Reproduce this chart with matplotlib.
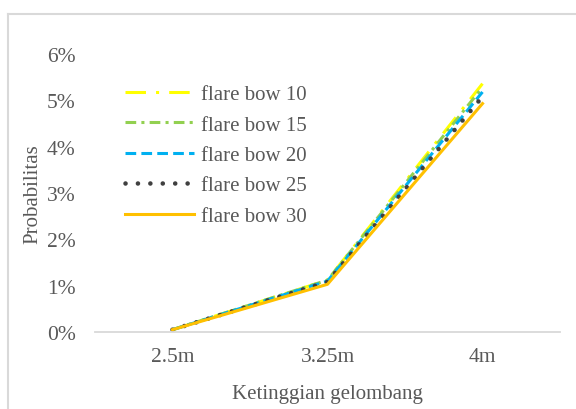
import matplotlib.pyplot as plt
from matplotlib.lines import Line2D

# data
categories = ['2.5m', '3.25m', '4m']
series_names = ['flare bow 10', 'flare bow 15', 'flare bow 20', 'flare bow 25', 'flare bow 30']
fb10 = [0.05, 1.12, 5.36]
fb15 = [0.05, 1.12, 5.28]
fb20 = [0.05, 1.10, 5.18]
fb25 = [0.05, 1.08, 5.08]
fb30 = [0.05, 1.03, 4.93]
y_ticks = [0, 1, 2, 3, 4, 5, 6]

colors = ['#FFFF00', '#92D050', '#00B0F0', '#404040', '#FFC000']
styles = [(0, (6.7, 3.3, 1, 3.3)), (0, (3.5, 1.7, 1, 1.7)), (0, (3.5, 1.7)),
          (0, (0.01, 2.7)), '-']
widths = [2.2, 2.2, 2.2, 3.3, 2.2]
caps = ['butt', 'butt', 'butt', 'round', 'butt']
text_color = '#595959'

plt.rcParams['font.family'] = ['Liberation Serif', 'DejaVu Serif']

fig = plt.figure(figsize=(5.76, 4.10), dpi=100)
ax = fig.add_axes([95 / 576, 1 - 333 / 410, 465 / 576, 278 / 410])

x = range(len(categories))
for vals, name, c, ls, lw, cap in zip([fb10, fb15, fb20, fb25, fb30], series_names,
                                      colors, styles, widths, caps):
    ax.plot(x, vals, color=c, linestyle=ls, linewidth=lw, dash_capstyle=cap, label=name)

ax.set_xlim(-0.5, len(categories) - 0.5)
ax.set_ylim(0, 6)
ax.set_xticks(list(x))
ax.set_xticklabels(categories)
ax.set_yticks(y_ticks)
ax.set_yticklabels([f'{v}%' for v in y_ticks])
ax.tick_params(length=0, labelsize=15.5, colors=text_color)
ax.tick_params(axis='y', pad=14)
ax.tick_params(axis='x', pad=11)
for s in ['top', 'right', 'left']:
    ax.spines[s].set_visible(False)
ax.spines['bottom'].set_color('#D9D9D9')
ax.spines['bottom'].set_linewidth(1.3)

ax.set_xlabel('Ketinggian gelombang', fontsize=15, color=text_color, labelpad=13)
ax.set_ylabel('Probabilitas', fontsize=15, color=text_color, labelpad=3)

leg = ax.legend(loc='upper left', bbox_to_anchor=(0.065, 0.89), frameon=False,
                fontsize=15, handlelength=3.3, handletextpad=0.35,
                labelspacing=0.52, borderpad=0, borderaxespad=0)
for t in leg.get_texts():
    t.set_color(text_color)

# outer chart border (left and top edges visible)
fig.add_artist(Line2D([8 / 576, 8 / 576], [0, 1 - 15 / 410], transform=fig.transFigure,
                      color='#D9D9D9', linewidth=1.5))
fig.add_artist(Line2D([8 / 576, 1], [1 - 15 / 410, 1 - 15 / 410], transform=fig.transFigure,
                      color='#D9D9D9', linewidth=1.5))

fig.savefig('out.png', dpi=100)
